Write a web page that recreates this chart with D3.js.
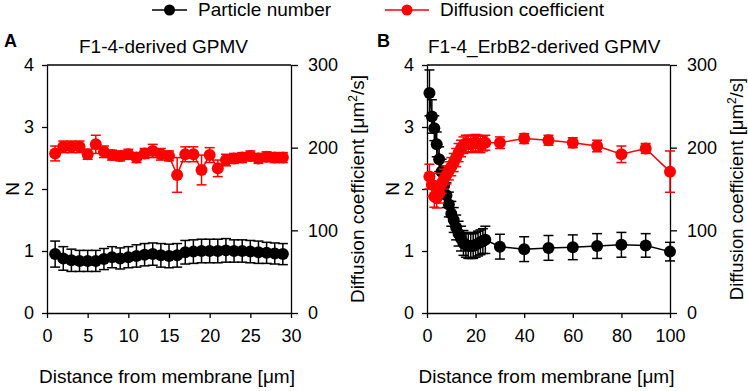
<!DOCTYPE html>
<html>
<head>
<meta charset="utf-8">
<script src="https://cdn.jsdelivr.net/npm/d3@7"></script>
<style>
  body { margin: 0; background: #fff; }
  svg { font-family: "Liberation Sans", Arial, sans-serif; }
</style>
</head>
<body>
<div id="chart"></div>
<script>
// panel A: F1-4-derived GPMV
var distA = [1,2,3,4,5,6,7,8,9,10,11,12,13,14,15,16,17,18,19,20,21,22,23,24,25,26,27,28,29];
var nA    = [0.95,0.88,0.85,0.84,0.84,0.84,0.87,0.90,0.88,0.90,0.92,0.94,0.95,0.93,0.92,0.93,0.98,0.99,1.00,1.00,1.00,1.01,1.00,1.00,0.99,0.98,0.97,0.96,0.95];
var nAerr = [0.21,0.19,0.18,0.17,0.17,0.17,0.17,0.17,0.17,0.17,0.18,0.18,0.18,0.19,0.19,0.19,0.19,0.19,0.19,0.19,0.19,0.19,0.18,0.18,0.18,0.18,0.17,0.17,0.17];
var dA    = [193,201,201,201,192,204,195,191,190,192,188,193,196,192,190,167,192,192,173,191,175,185,187,188,190,187,189,188,188];
var dAerr = [9,7,7,7,6,11,7,6,6,6,6,6,8,7,6,21,9,9,18,9,10,7,6,6,6,6,6,6,6];

// panel B: F1-4_ErbB2-derived GPMV
var distB = [1,2,3,4,5,6,7,8,9,10,11,12,13,14,15,16,17,18,19,20,21,22,23,24,30,40,50,60,70,80,90,100];
var nB    = [3.55,3.17,2.98,2.72,2.48,2.28,2.05,1.90,1.75,1.60,1.50,1.38,1.28,1.20,1.13,1.10,1.08,1.08,1.08,1.10,1.12,1.14,1.16,1.18,1.07,1.03,1.05,1.06,1.08,1.10,1.09,0.99];
var nBerr = [0.37,0.27,0.20,0.20,0.20,0.20,0.20,0.20,0.20,0.20,0.20,0.20,0.20,0.20,0.20,0.20,0.20,0.20,0.20,0.20,0.20,0.20,0.20,0.22,0.20,0.20,0.20,0.20,0.20,0.20,0.19,0.15];
var dB    = [165,155,141,139,145,157,162,167,172,177,182,188,194,199,203,205,205,204,205,206,205,204,205,206,206,211,209,206,202,192,199,171];
var dBerr = [15,14,13,12,12,12,12,11,11,11,11,11,11,10,10,10,10,10,10,10,10,10,9,9,7,6,6,6,7,10,6,25];

var ticksA = [0,5,10,15,20,25,30];
var ticksB = [0,20,40,60,80,100];
var ticksN = [0,1,2,3,4];
var ticksD = [0,100,200,300];

var legendItems = ["Particle number", "Diffusion coefficient"];
var colors = ["#000000", "#ff0000"];

var svg = d3.select("#chart").append("svg")
  .attr("width", 748)
  .attr("height", 391);

// legend
var leg = svg.append("g");
var legX = [152, 385], legLen = [35, 44];
legendItems.forEach(function(name, i) {
  var g = leg.append("g").attr("transform", "translate(" + legX[i] + ",10)");
  g.append("line").attr("x1", 0).attr("x2", legLen[i]).attr("y1", 0).attr("y2", 0)
    .attr("stroke", colors[i]).attr("stroke-width", 1.5);
  g.append("circle").attr("cx", legLen[i] / 2).attr("cy", 0).attr("r", 5.5).attr("fill", colors[i]);
  g.append("text").attr("x", legLen[i] + 11).attr("y", 6).text(name)
    .style("font-size", "19px").attr("fill", "#000");
});

function drawPanel(cfg) {
  var x = d3.scaleLinear().domain(cfg.xdom).range(cfg.xr);
  var yN = d3.scaleLinear().domain([0, 4]).range([313, 65]);
  var yD = d3.scaleLinear().domain([0, 300]).range([313, 65]);
  var g = svg.append("g");

  // letter and title
  g.append("text").attr("x", cfg.letterX).attr("y", 47).text(cfg.letter)
    .style("font-size", "18px").style("font-weight", "bold");
  g.append("text").attr("x", cfg.titleX).attr("y", 53).text(cfg.title)
    .style("font-size", "19px");

  // top frame line
  g.append("line").attr("x1", cfg.xr[0]).attr("x2", cfg.xr[1])
    .attr("y1", 65).attr("y2", 65).attr("stroke", "#000").attr("stroke-width", 1.3);

  // axes
  var ax = g.append("g").attr("transform", "translate(0,313)")
    .call(d3.axisBottom(x).tickValues(cfg.xticks).tickFormat(d3.format("d"))
      .tickSize(5).tickPadding(11).tickSizeOuter(0));
  var al = g.append("g").attr("transform", "translate(" + cfg.xr[0] + ",0)")
    .call(d3.axisLeft(yN).tickValues(ticksN).tickFormat(d3.format("d"))
      .tickSize(5).tickPadding(8).tickSizeOuter(0));
  var ar = g.append("g").attr("transform", "translate(" + cfg.xr[1] + ",0)")
    .call(d3.axisRight(yD).tickValues(ticksD).tickFormat(d3.format("d"))
      .tickSize(7).tickPadding(10).tickSizeOuter(0));
  [ax, al, ar].forEach(function(a) {
    a.selectAll("path, line").attr("stroke", "#000").attr("stroke-width", 1.3);
    a.selectAll("text").style("font-size", "18px").attr("fill", "#000");
  });

  // axis titles
  g.append("text").attr("x", (cfg.xr[0] + cfg.xr[1]) / 2 - 2).attr("y", 383)
    .attr("text-anchor", "middle").style("font-size", "19px")
    .text("Distance from membrane [\u03bcm]");
  g.append("text").attr("transform", "translate(" + cfg.nX + ",189) rotate(-90)")
    .attr("text-anchor", "middle").attr("dy", "0.35em").style("font-size", "19px").text("N");
  var rt = g.append("text").attr("transform", "translate(" + cfg.dX + ",189) rotate(-90)")
    .attr("text-anchor", "middle").attr("dy", "0.35em").style("font-size", cfg.dFont);
  rt.append("tspan").text("Diffusion coefficient [\u03bcm");
  rt.append("tspan").attr("dy", -7).style("font-size", "12px").text("2");
  rt.append("tspan").attr("dy", 7).text("/s]");

  function series(dist, vals, errs, y, color) {
    var pts = dist.map(function(d, i) { return {x: d, v: vals[i], e: errs[i]}; });
    var s = g.append("g");
    s.append("path").datum(pts)
      .attr("d", d3.line().x(function(d) { return x(d.x); }).y(function(d) { return y(d.v); }))
      .attr("fill", "none").attr("stroke", color).attr("stroke-width", 1.5);
    var eb = s.selectAll(".eb").data(pts).enter().append("g");
    eb.append("line")
      .attr("x1", function(d) { return x(d.x); }).attr("x2", function(d) { return x(d.x); })
      .attr("y1", function(d) { return y(d.v - d.e); }).attr("y2", function(d) { return y(d.v + d.e); })
      .attr("stroke", color).attr("stroke-width", 1.5);
    [-1, 1].forEach(function(sg) {
      eb.append("line")
        .attr("x1", function(d) { return x(d.x) - 5; }).attr("x2", function(d) { return x(d.x) + 5; })
        .attr("y1", function(d) { return y(d.v + sg * d.e); }).attr("y2", function(d) { return y(d.v + sg * d.e); })
        .attr("stroke", color).attr("stroke-width", 1.5);
    });
    s.selectAll("circle").data(pts).enter().append("circle")
      .attr("cx", function(d) { return x(d.x); })
      .attr("cy", function(d) { return y(d.v); })
      .attr("r", 6)
      .attr("fill", color);
  }

  series(cfg.dist, cfg.n, cfg.nerr, yN, colors[0]);
  series(cfg.dist, cfg.d, cfg.derr, yD, colors[1]);
}

drawPanel({
  letter: "A", letterX: 4, title: "F1-4-derived GPMV", titleX: 79,
  xdom: [0, 30], xr: [47, 291], xticks: ticksA, nX: 12, dX: 357, dFont: "19px",
  dist: distA, n: nA, nerr: nAerr, d: dA, derr: dAerr
});
drawPanel({
  letter: "B", letterX: 377, title: "F1-4_ErbB2-derived GPMV", titleX: 428,
  xdom: [0, 100], xr: [427, 670], xticks: ticksB, nX: 392, dX: 737, dFont: "18.5px",
  dist: distB, n: nB, nerr: nBerr, d: dB, derr: dBerr
});
</script>
</body>
</html>
